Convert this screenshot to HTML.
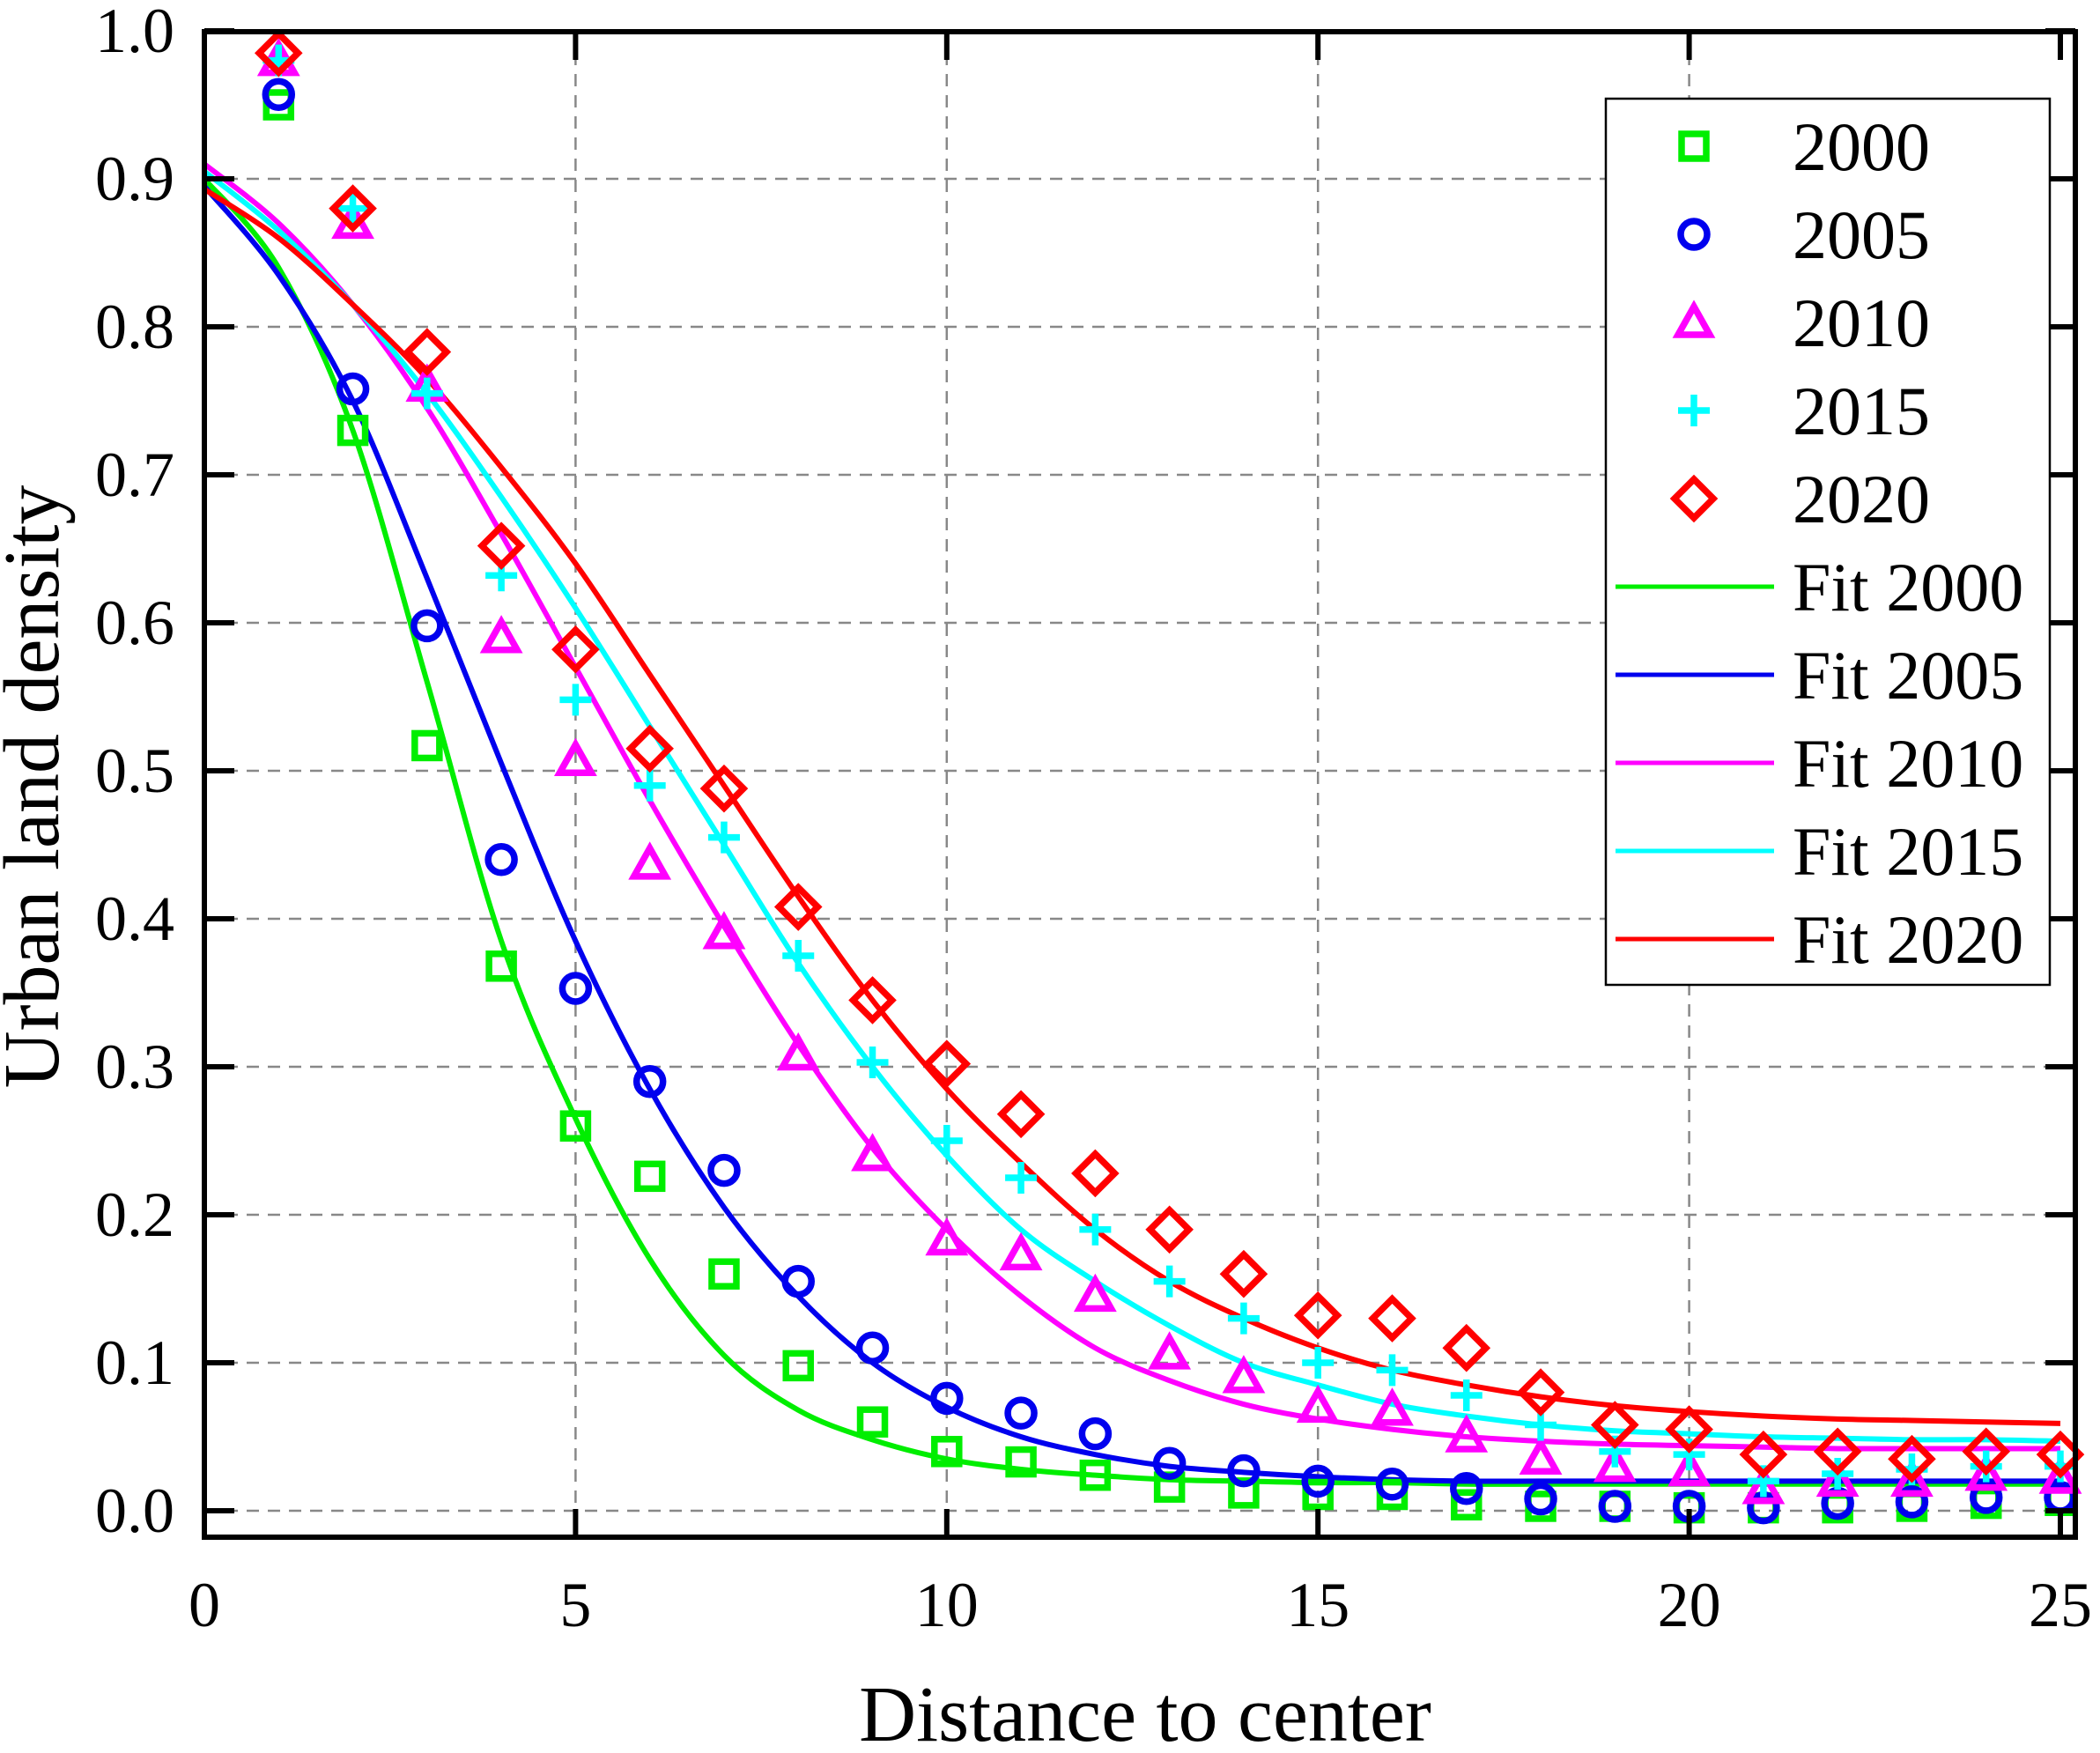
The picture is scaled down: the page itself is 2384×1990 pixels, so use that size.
<!DOCTYPE html>
<html><head><meta charset="utf-8"><style>
body{margin:0;background:#fff}
svg{display:block}
text{font-family:"Liberation Serif",serif;fill:#000}
</style></head><body>
<svg id="chart" width="2384" height="1990" viewBox="0 0 2384 1990" xmlns="http://www.w3.org/2000/svg">
<g id="grid"></g>
<g id="fits"></g>
<g id="pts"></g>
<rect x="232" y="36" width="2124" height="1709" fill="none" stroke="#000" stroke-width="6"/>
<g id="ticks"></g>
<text x="1300" y="1976" font-size="90" text-anchor="middle">Distance to center</text>
<text transform="translate(66,893) rotate(-90)" font-size="90" text-anchor="middle">Urban land density</text>
<g id="legend"></g>
</svg>
<script>
const xs = [1,2,3,4,5,6,7,8,9,10,11,12,13,14,15,16,17,18,19,20,21,22,23,24,25];
const d2000 = [.95,.73,.517,.368,.26,.226,.16,.098,.06,.04,.033,.024,.016,.012,.011,.011,.004,.003,.003,.002,.002,.002,.003,.005,.007];
const d2005 = [.957,.758,.598,.44,.353,.29,.23,.155,.11,.076,.066,.052,.032,.027,.02,.018,.015,.008,.003,.003,.002,.005,.006,.009,.009];
const d2010 = [.98,.87,.76,.59,.507,.437,.39,.308,.24,.183,.173,.145,.106,.09,.07,.068,.05,.035,.03,.027,.015,.02,.02,.024,.022];
const d2015 = [.98,.88,.755,.632,.548,.49,.455,.375,.303,.25,.225,.19,.155,.13,.1,.095,.078,.058,.04,.038,.02,.025,.028,.03,.03];
const d2020 = [.985,.88,.783,.652,.582,.515,.488,.408,.345,.302,.268,.228,.19,.16,.132,.13,.11,.08,.058,.055,.038,.04,.035,.04,.038];
const fitX = [0,1,2,3,4,5,6,7,8,9,10,11,12,13,14,15,16,17,18,19,20,21,22,23,24,25];
const fit2000 = [.90,.84,.73,.56,.385,.265,.17,.105,.068,.048,.035,.028,.024,.021,.02,.019,.019,.018,.018,.018,.018,.018,.018,.018,.018,.018];
const fit2005 = [.895,.835,.75,.63,.505,.385,.285,.205,.145,.10,.07,.05,.038,.03,.026,.023,.021,.02,.02,.02,.02,.02,.02,.02,.02,.02];
const fit2010 = [.91,.87,.815,.745,.66,.57,.48,.395,.315,.245,.19,.145,.11,.088,.072,.062,.055,.05,.047,.045,.044,.043,.042,.042,.042,.042];
const fit2015 = [.905,.865,.815,.755,.685,.61,.53,.45,.37,.30,.24,.19,.155,.125,.10,.085,.072,.064,.058,.054,.052,.05,.049,.048,.048,.047];
const fit2020 = [.893,.86,.815,.765,.705,.64,.565,.49,.415,.345,.285,.235,.19,.155,.13,.11,.095,.085,.077,.071,.067,.064,.062,.061,.06,.059];
const xTicks = [0,5,10,15,20,25];
const yTicks = [0,0.1,0.2,0.3,0.4,0.5,0.6,0.7,0.8,0.9,1.0];
const years = ["2000","2005","2010","2015","2020"];

const NS="http://www.w3.org/2000/svg";
const X=v=>232+v*84.28, Y=v=>1715-v*1680;
function mk(tag,attrs,parent){const e=document.createElementNS(NS,tag);for(const k in attrs)e.setAttribute(k,attrs[k]);parent.appendChild(e);return e;}
const grid=document.getElementById('grid'),ticks=document.getElementById('ticks');
xTicks.forEach(t=>{
  if(t>0&&t<25){const g=mk('line',{x1:X(t),x2:X(t),y1:36,y2:1745,stroke:'#888','stroke-width':2.5,'stroke-dasharray':'14 10'},grid);
  
  }
  [[1745,1713],[36,68]].forEach(([a,b])=>{const l=mk('line',{x1:X(t),x2:X(t),y1:a,y2:b,stroke:'#000','stroke-width':6},ticks);
  
  });
  const tx=mk('text',{x:X(t),y:1846,'font-size':72,'text-anchor':'middle'},ticks);tx.textContent=t;
  
  
});
yTicks.forEach(t=>{
  if(t<1){const g=mk('line',{x1:232,x2:2356,y1:Y(t),y2:Y(t),stroke:'#888','stroke-width':2.5,'stroke-dasharray':'14 10'},grid);
  
  }
  [[232,266],[2356,2322]].forEach(([a,b])=>{const l=mk('line',{x1:a,x2:b,y1:Y(t),y2:Y(t),stroke:'#000','stroke-width':6},ticks);
  
  });
  const tx=mk('text',{x:198,y:Y(t)+24,'font-size':72,'text-anchor':'end'},ticks);tx.textContent=t.toFixed(1);
  
  
});
const colors=['#00ee00','#0000ee','#ff00ff','#00ffff','#ff0000'];
const fits=[fit2000,fit2005,fit2010,fit2015,fit2020];
const data=[d2000,d2005,d2010,d2015,d2020];
function smooth(px,py){let d=`M${px[0]},${py[0]}`;const n=px.length;
  for(let i=0;i<n-1;i++){const x0=px[Math.max(i-1,0)],y0=py[Math.max(i-1,0)],x3=px[Math.min(i+2,n-1)],y3=py[Math.min(i+2,n-1)];
    const c1x=px[i]+(px[i+1]-x0)/6,c1y=py[i]+(py[i+1]-y0)/6,c2x=px[i+1]-(x3-px[i])/6,c2y=py[i+1]-(y3-py[i])/6;
    d+=` C${c1x},${c1y} ${c2x},${c2y} ${px[i+1]},${py[i+1]}`;}return d;}
const fg=document.getElementById('fits');
fits.forEach((f,i)=>{const p=mk('path',{d:smooth(fitX.map(X),f.map(Y)),fill:'none',stroke:colors[i],'stroke-width':6},fg);
  
  });
function marker(k,cx,cy,parent){const c=colors[k],s=7.5;let e;
  if(k===0)e=mk('rect',{x:cx-14,y:cy-14,width:28,height:28,fill:'none',stroke:c,'stroke-width':s},parent);
  else if(k===1)e=mk('circle',{cx,cy,r:15,fill:'none',stroke:c,'stroke-width':s},parent);
  else if(k===2)e=mk('path',{d:`M${cx},${cy-18}L${cx+18},${cy+14}L${cx-18},${cy+14}Z`,fill:'none',stroke:c,'stroke-width':s},parent);
  else if(k===3)e=mk('path',{d:`M${cx-18},${cy}H${cx+18}M${cx},${cy-18}V${cy+18}`,fill:'none',stroke:c,'stroke-width':s},parent);
  else e=mk('path',{d:`M${cx},${cy-22}L${cx+22},${cy}L${cx},${cy+22}L${cx-22},${cy}Z`,fill:'none',stroke:c,'stroke-width':s},parent);
  return e;}
const pg=document.getElementById('pts');
data.forEach((arr,k)=>arr.forEach((v,i)=>{const m=marker(k,X(xs[i]),Y(v),pg);
  
  }));
const lg=document.getElementById('legend');
const box=mk('rect',{x:1823,y:112,width:504,height:1006,fill:'#fff',stroke:'#000','stroke-width':2.5},lg);


years.forEach((yr,k)=>{const cy=166+k*100;const m=marker(k,1923,cy,lg);
  
  
  const t=mk('text',{x:2035,y:cy+27,'font-size':78},lg);t.textContent=yr;
  
  });
years.forEach((yr,k)=>{const cy=666+k*100;
  const l=mk('line',{x1:1834,x2:2014,y1:cy,y2:cy,stroke:colors[k],'stroke-width':5},lg);
  
  
  const t=mk('text',{x:2035,y:cy+27,'font-size':78},lg);t.textContent='Fit '+yr;
  
  });
</script>
</body></html>
